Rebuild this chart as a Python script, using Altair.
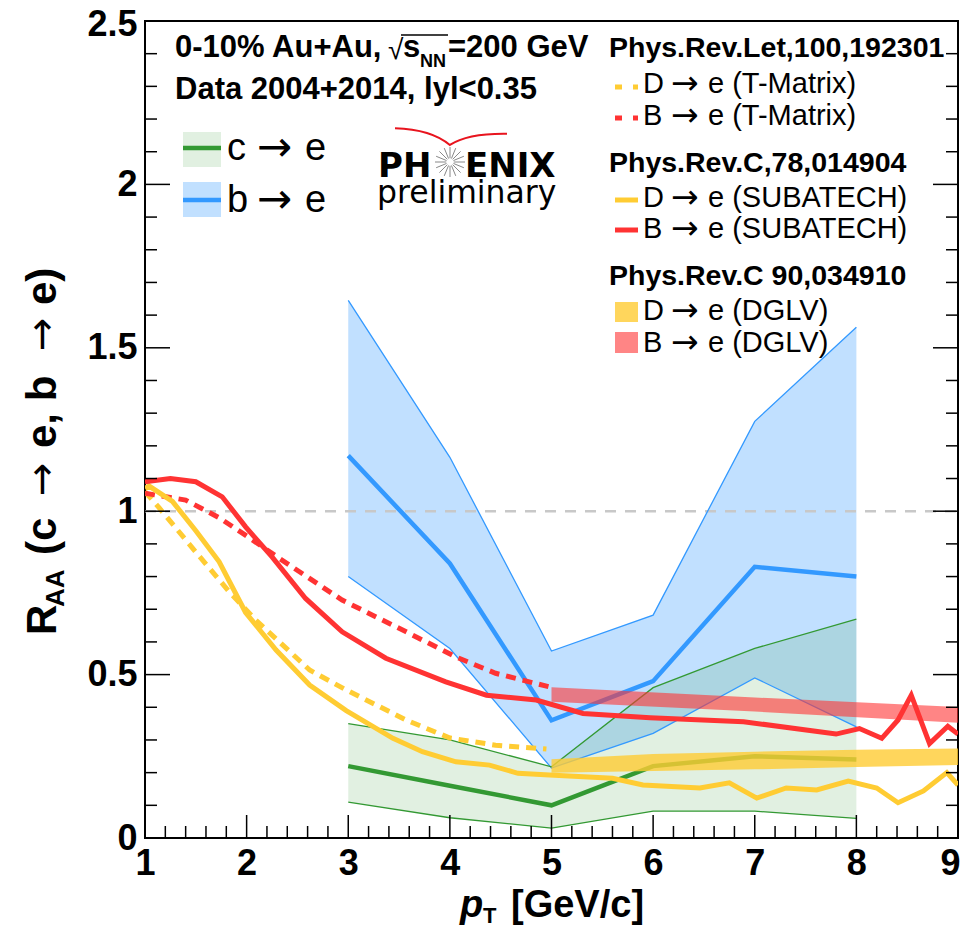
import math
import altair as alt
import pandas as pd

# ---------------- data ----------------
PT_DATA = [3, 4, 5, 6, 7, 8]
BE_CENTRAL = [1.17, 0.84, 0.36, 0.48, 0.83, 0.80]
BE_UPPER = [1.645, 1.165, 0.572, 0.682, 1.275, 1.563]
BE_LOWER = [0.80, 0.58, 0.214, 0.32, 0.49, 0.34]
CE_CENTRAL = [0.22, 0.16, 0.10, 0.22, 0.25, 0.24]
CE_UPPER = [0.35, 0.30, 0.218, 0.46, 0.58, 0.67]
CE_LOWER = [0.11, 0.062, 0.03, 0.082, 0.082, 0.06]

TM_D_PT = [1.0, 1.14, 1.5, 1.83, 2.09, 2.62, 2.98, 3.57, 4.0, 4.45, 4.95]
TM_D_RAA = [1.06, 1.01, 0.875, 0.753, 0.667, 0.514, 0.453, 0.361, 0.306, 0.284, 0.272]
TM_B_PT = [1.0, 1.4, 1.73, 2.02, 2.32, 2.94, 3.57, 4.06, 4.45, 4.97]
TM_B_RAA = [1.055, 1.034, 0.98, 0.92, 0.856, 0.728, 0.631, 0.554, 0.504, 0.463]

SU_D_PT = [1.0, 1.04, 1.27, 1.5, 1.73, 1.99, 2.29, 2.62, 2.98, 3.44, 3.73, 4.06, 4.39, 4.67,
           4.98, 5.6, 5.9, 6.46, 6.75, 7.02, 7.31, 7.61, 7.92, 8.2, 8.41, 8.66, 8.89, 9.0]
SU_D_RAA = [1.07, 1.077, 1.03, 0.94, 0.845, 0.69, 0.575, 0.468, 0.39, 0.305, 0.264, 0.233, 0.223, 0.198,
            0.193, 0.183, 0.162, 0.153, 0.169, 0.122, 0.153, 0.147, 0.174, 0.153, 0.108, 0.144, 0.2, 0.162]
SU_B_PT = [1.0, 1.25, 1.5, 1.76, 1.99, 2.25, 2.58, 2.94, 3.37, 3.96, 4.36, 4.85, 5.31, 5.97,
           6.89, 7.8, 8.03, 8.25, 8.41, 8.54, 8.72, 8.9, 9.0]
SU_B_RAA = [1.09, 1.10, 1.09, 1.044, 0.952, 0.86, 0.733, 0.631, 0.55, 0.478, 0.437, 0.422, 0.381, 0.368,
            0.356, 0.318, 0.335, 0.305, 0.361, 0.437, 0.289, 0.342, 0.318]

DGLV_D_PT = [5, 6, 7, 8, 9]
DGLV_D_LOW = [0.20, 0.205, 0.21, 0.217, 0.223]
DGLV_D_HIGH = [0.241, 0.257, 0.264, 0.27, 0.274]
DGLV_B_PT = [5, 7, 9]
DGLV_B_LOW = [0.417, 0.387, 0.353]
DGLV_B_HIGH = [0.461, 0.43, 0.401]

REF_LEVEL = [1.0]
REF_RANGE = [1, 9]

X_MAJOR = [1, 2, 3, 4, 5, 6, 7, 8, 9]
X_MINOR = [round(1 + 0.2 * i, 1) for i in range(41) if i % 5 != 0]
Y_MAJOR = [0, 0.5, 1.0, 1.5, 2.0, 2.5]
Y_MINOR = [round(0.1 * i, 1) for i in range(26) if i % 5 != 0]

# ---------------- style ----------------
W, H = 813, 817
FONT = "Liberation Sans, Arial, Helvetica, sans-serif"
LOGO_FONT = "DejaVu Sans, sans-serif"
ARROW_FONT = "DejaVu Sans, sans-serif"
ARROW = "\u2192"
BLUE = "#3399ff"
GREEN = "#339933"
YELLOW = "#ffcc33"
RED = "#ff3333"

XS = alt.Scale(domain=[1, 9], nice=False, zero=False)
YS = alt.Scale(domain=[0, 2.5], nice=False, zero=False)
XAXIS = alt.Axis(values=X_MAJOR, title=None, grid=False, ticks=False, domain=False, tickSize=0,
                 labelFont=FONT, labelFontSize=36, labelFontWeight="bold", labelColor="black",
                 labelPadding=8, labelFlush=False, labelOverlap=False, format="d",
                 labelAlign={"condition": {"test": "datum.value == 9", "value": "right"}, "value": "center"},
                 labelOffset={"condition": {"test": "datum.value == 9", "value": 2}, "value": 0})
YAXIS = alt.Axis(values=Y_MAJOR, title=None, grid=False, ticks=False, domain=False, tickSize=0,
                 labelFont=FONT, labelFontSize=36, labelFontWeight="bold", labelColor="black",
                 labelPadding=8, labelFlush=False, labelOverlap=False, labelExpr="'' + datum.value",
                 labelOffset={"condition": {"test": "datum.value == 2.5", "value": 3}, "value": 0})


def X(f):
    return alt.X(f, type="quantitative", scale=XS, axis=XAXIS)


def Y(f):
    return alt.Y(f, type="quantitative", scale=YS, axis=YAXIS)


def line(xs, ys, color, width, dash=None):
    df = pd.DataFrame({"pt": xs, "v": ys})
    kw = dict(color=color, strokeWidth=width, clip=True)
    if dash:
        kw["strokeDash"] = dash
    return alt.Chart(df).mark_line(**kw).encode(x=X("pt"), y=Y("v"))


def band(xs, lo, hi, color, opacity):
    df = pd.DataFrame({"pt": xs, "lo": lo, "hi": hi})
    return alt.Chart(df).mark_area(color=color, opacity=opacity).encode(
        x=X("pt"), y=Y("hi"), y2=alt.Y2("lo"))


ONE = pd.DataFrame({"a": [0]})


def text(s, x, y, size, bold=False, italic=False, font=FONT, align="left", baseline="alphabetic",
         angle=0, color="black"):
    kw = dict(text=s, font=font, fontSize=size, fontWeight="bold" if bold else "normal",
              fontStyle="italic" if italic else "normal", align=align, baseline=baseline,
              color=color)
    if angle:
        kw["angle"] = angle
    return alt.Chart(ONE).mark_text(**kw).encode(x=alt.value(x), y=alt.value(y))


def hrule(x1, x2, y, color, width, dash=None):
    kw = dict(color=color, strokeWidth=width)
    if dash:
        kw["strokeDash"] = dash
    return alt.Chart(ONE).mark_rule(**kw).encode(x=alt.value(x1), x2=alt.value(x2), y=alt.value(y))


def box(x1, x2, y1, y2, color, opacity=1.0):
    return alt.Chart(ONE).mark_rect(color=color, opacity=opacity).encode(
        x=alt.value(x1), x2=alt.value(x2), y=alt.value(y1), y2=alt.value(y2))


layers = []
# uncertainty bands
layers.append(band(PT_DATA, BE_LOWER, BE_UPPER, BLUE, 0.3))
layers.append(band(PT_DATA, CE_LOWER, CE_UPPER, GREEN, 0.15))
# reference line at 1
ref_df = pd.DataFrame({"v": REF_LEVEL, "x1": [REF_RANGE[0]], "x2": [REF_RANGE[1]]})
layers.append(alt.Chart(ref_df).mark_rule(color="#c8c8c8", strokeWidth=2.5, strokeDash=[11, 9]).encode(
    y=Y("v"), x=X("x1"), x2=alt.X2("x2")))
# band edges
layers.append(line(PT_DATA, BE_UPPER, BLUE, 1.3))
layers.append(line(PT_DATA, BE_LOWER, BLUE, 1.3))
layers.append(line(PT_DATA, CE_UPPER, GREEN, 1.3))
layers.append(line(PT_DATA, CE_LOWER, GREEN, 1.3))
# central values
layers.append(line(PT_DATA, BE_CENTRAL, BLUE, 4.5))
layers.append(line(PT_DATA, CE_CENTRAL, GREEN, 4.5))
# DGLV bands
layers.append(band(DGLV_B_PT, DGLV_B_LOW, DGLV_B_HIGH, RED, 0.6))
layers.append(band(DGLV_D_PT, DGLV_D_LOW, DGLV_D_HIGH, YELLOW, 0.8))
# T-Matrix
layers.append(line(TM_D_PT, TM_D_RAA, YELLOW, 5, [10, 7]))
layers.append(line(TM_B_PT, TM_B_RAA, RED, 5, [10, 7]))
# SUBATECH
layers.append(line(SU_D_PT, SU_D_RAA, YELLOW, 5))
layers.append(line(SU_B_PT, SU_B_RAA, RED, 5))


# inward ticks
def yticks(vals, length):
    df = pd.DataFrame({"v": vals})
    left = alt.Chart(df).mark_rule(color="black", strokeWidth=1.5).encode(
        y=Y("v"), x=alt.value(0), x2=alt.value(length))
    right = alt.Chart(df).mark_rule(color="black", strokeWidth=1.5).encode(
        y=Y("v"), x=alt.value(W), x2=alt.value(W - length))
    return [left, right]


def xticks(vals, length):
    df = pd.DataFrame({"v": vals})
    return [alt.Chart(df).mark_rule(color="black", strokeWidth=1.5).encode(
        x=X("v"), y=alt.value(H), y2=alt.value(H - length))]


layers += yticks(Y_MAJOR, 25) + yticks(Y_MINOR, 12) + xticks(X_MAJOR, 23) + xticks(X_MINOR, 12)

# ---------------- annotations ----------------
# header text
layers.append(text("0-10% Au+Au,", 30, 36, 31, bold=True))
layers.append(text("\u221a", 243, 38, 28))
layers.append(hrule(256, 303, 14, "black", 1.3))
layers.append(text("s", 258, 36, 31, bold=True))
layers.append(text("NN", 275, 46, 18, bold=True))
layers.append(text("=200 GeV", 303, 36, 31, bold=True))
layers.append(text("Data 2004+2014, lyl<0.35", 30, 78, 31, bold=True))

# data legend
layers.append(box(38, 76, 111, 146, GREEN, 0.15))
layers.append(hrule(38, 76, 127, GREEN, 4.5))
layers.append(text("c", 82, 139, 38))
layers.append(text(ARROW, 112, 140, 42, font=ARROW_FONT))
layers.append(text("e", 160, 139, 38))
layers.append(box(38, 76, 161, 196, BLUE, 0.3))
layers.append(hrule(38, 76, 179, BLUE, 4.5))
layers.append(text("b", 82, 191, 38))
layers.append(text(ARROW, 112, 192, 42, font=ARROW_FONT))
layers.append(text("e", 160, 191, 38))

# PHENIX logo
spokes = []
for k in range(16):
    a = 2 * math.pi * k / 16
    spokes.append("M%.3f,%.3fL%.3f,%.3f" % (0.25 * math.cos(a), 0.25 * math.sin(a), math.cos(a), math.sin(a)))
STAR = "".join(spokes)
ARC = "M-1,-0.14Q-0.35,-0.12 -0.02,0.16Q0.3,-0.05 1,-0.04"
layers.append(text("PH", 233, 156, 34, bold=True, font=LOGO_FONT))
layers.append(text("ENIX", 320, 156, 34, bold=True, font=LOGO_FONT))
layers.append(alt.Chart(ONE).mark_point(shape=STAR, size=900, filled=False, stroke="#888888",
                                        strokeWidth=1, opacity=1).encode(x=alt.value(305), y=alt.value(141)))
layers.append(alt.Chart(ONE).mark_point(shape=ARC, size=12544, filled=False, stroke="#e8141e",
                                        strokeWidth=2, opacity=1).encode(x=alt.value(306), y=alt.value(115)))
layers.append(text("preliminary", 232, 182, 31.5, font=LOGO_FONT))

# model legend
LX = 464
TX = 498
AX = 526
EX = 563
layers.append(text("Phys.Rev.Let,100,192301", LX, 36, 28.5, bold=True))
items = [
    ("D", "e (T-Matrix)", 72),
    ("B", "e (T-Matrix)", 104),
    ("D", "e (SUBATECH)", 186),
    ("B", "e (SUBATECH)", 217),
    ("D", "e (DGLV)", 299),
    ("B", "e (DGLV)", 331),
]
for first, rest, yb in items:
    layers.append(text(first, TX, yb, 29))
    layers.append(text(ARROW, AX, yb + 1, 33, font=ARROW_FONT))
    layers.append(text(rest, EX, yb, 29))
layers.append(hrule(470, 493, 66, YELLOW, 5, [7, 11]))
layers.append(hrule(470, 493, 97, RED, 5, [7, 11]))
layers.append(text("Phys.Rev.C,78,014904", LX, 151, 28.5, bold=True))
layers.append(hrule(470, 493, 179, YELLOW, 5))
layers.append(hrule(470, 493, 209, RED, 5))
layers.append(text("Phys.Rev.C 90,034910", LX, 264, 28.5, bold=True))
layers.append(box(470, 493, 281, 301, YELLOW, 0.8))
layers.append(box(470, 493, 311, 332, RED, 0.6))

# axis titles
layers.append(text("p", 315, 896, 38, bold=True, italic=True))
layers.append(text("T", 338, 902, 22, bold=True))
layers.append(text("[GeV/c]", 366, 896, 38, bold=True))

YT_X = -89
layers.append(text("R", YT_X, 614, 42, bold=True, angle=270))
layers.append(text("AA", YT_X + 8, 586, 26, bold=True, angle=270))
layers.append(text("(c", YT_X, 534, 42, bold=True, angle=270))
layers.append(text(ARROW, YT_X - 1, 475, 40, font=ARROW_FONT, angle=270))
layers.append(text("e, b", YT_X, 427, 42, bold=True, angle=270))
layers.append(text(ARROW, YT_X - 1, 330, 40, font=ARROW_FONT, angle=270))
layers.append(text("e)", YT_X, 284, 42, bold=True, angle=270))

chart = alt.layer(*layers).properties(
    width=W, height=H,
    autosize=alt.AutoSizeParams(type="none"),
    padding={"left": 137, "top": 13, "right": 2, "bottom": 88},
).configure_view(stroke="black", strokeWidth=2)

chart.save("out.html", embed_options={"renderer": "svg", "actions": False})
